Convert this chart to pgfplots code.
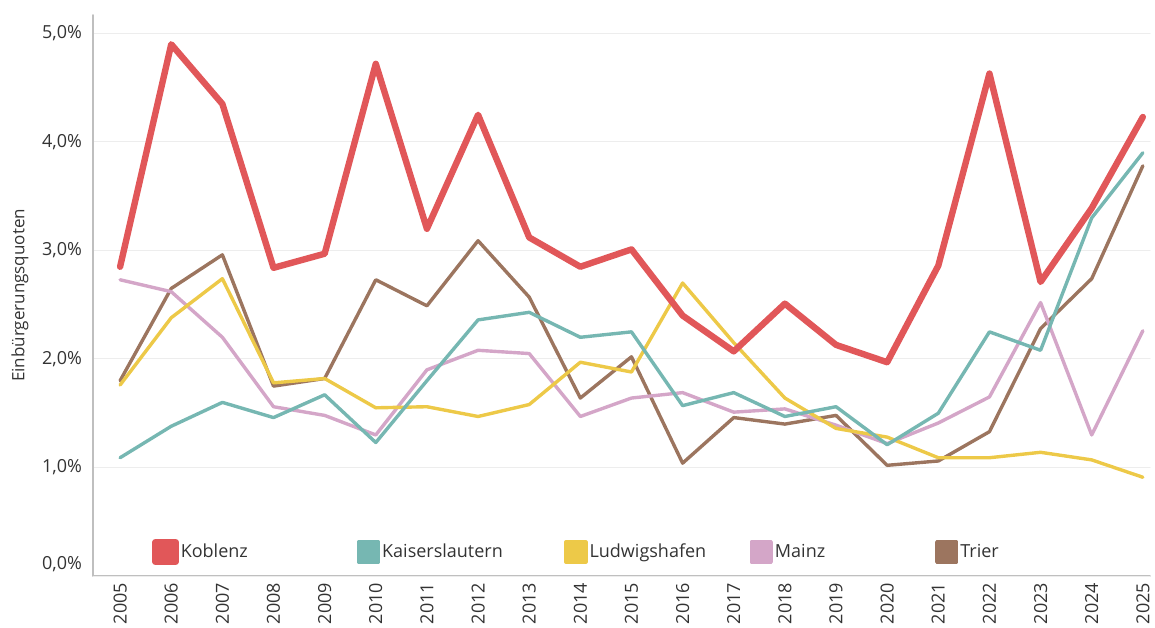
\documentclass[border=0pt]{standalone}
\usepackage{pgfplots}
\pgfplotsset{compat=1.18}
\usepackage{fontspec}
\setmainfont{Open Sans}
\definecolor{koblenz}{HTML}{E15759}
\definecolor{kaisers}{HTML}{76B7B2}
\definecolor{ludwig}{HTML}{EDC948}
\definecolor{mainz}{HTML}{D4A6C8}
\definecolor{trier}{HTML}{9C755F}
\definecolor{txt}{HTML}{333333}
\newcommand{\zerolabel}{0,0\%}
\begin{document}
\begin{tikzpicture}
\begin{axis}[
  scale only axis,
  width=528.5pt, height=280.5pt,
  at={(0,0)}, anchor=south west,
  xmin=2004.47, xmax=2025.14,
  ymin=0, ymax=5.17,
  axis x line=bottom, axis y line=left,
  axis line style={draw=black!25, line width=0.9pt, -},
  xtick={2005,2006,2007,2008,2009,2010,2011,2012,2013,2014,2015,2016,2017,2018,2019,2020,2021,2022,2023,2024,2025},
  xticklabels={2005,2006,2007,2008,2009,2010,2011,2012,2013,2014,2015,2016,2017,2018,2019,2020,2021,2022,2023,2024,2025},
  ytick={1,2,3,4,5},
  yticklabels={{1,0\%},{2,0\%},{3,0\%},{4,0\%},{5,0\%}},
  extra y ticks={0},
  extra y tick labels={\zerolabel},
  extra y tick style={yticklabel style={yshift=6pt}},
  major tick length=0pt,
  ymajorgrids,
  grid style={draw=black!7, line width=0.5pt},
  tick label style={font=\fontsize{9}{10}\selectfont, text=txt},
  xticklabel style={rotate=90, anchor=east, xshift=0pt},
  yticklabel style={xshift=-2pt},
  ylabel={Einbürgerungsquoten},
  ylabel style={at={(axis description cs:-0.069,0.5)}, anchor=center, font=\fontsize{8.5}{10}\selectfont, text=txt},
  line join=round, line cap=round,
  legend columns=-1,
  reverse legend,
  legend image code/.code={\fill[#1] (0pt,-5pt) rectangle (10pt,5pt);},
  legend style={draw=none, fill=none, at={(axis description cs:0.0501,0.0428)}, anchor=west,
    /tikz/every even column/.append style={column sep=0pt},
    nodes={inner sep=0pt, font=\fontsize{9}{10}\selectfont, text=txt}},
]
\addplot[color=trier, line width=1.7pt] coordinates {
(2005,1.80) (2006,2.65) (2007,2.96) (2008,1.75) (2009,1.82) (2010,2.73) (2011,2.49) (2012,3.09) (2013,2.57) (2014,1.64) (2015,2.02) (2016,1.04) (2017,1.46) (2018,1.40) (2019,1.48) (2020,1.02) (2021,1.06) (2022,1.33) (2023,2.28) (2024,2.74) (2025,3.78)};
\addlegendentry{\hspace{1pt}\makebox[60pt][l]{Trier}}
\addplot[color=mainz, line width=1.7pt] coordinates {
(2005,2.73) (2006,2.62) (2007,2.20) (2008,1.56) (2009,1.48) (2010,1.30) (2011,1.90) (2012,2.08) (2013,2.05) (2014,1.47) (2015,1.64) (2016,1.69) (2017,1.51) (2018,1.54) (2019,1.39) (2020,1.22) (2021,1.41) (2022,1.65) (2023,2.52) (2024,1.30) (2025,2.26)};
\addlegendentry{\hspace{1pt}\makebox[80pt][l]{Mainz}}
\addplot[color=ludwig, line width=1.7pt] coordinates {
(2005,1.76) (2006,2.38) (2007,2.74) (2008,1.78) (2009,1.82) (2010,1.55) (2011,1.56) (2012,1.47) (2013,1.58) (2014,1.97) (2015,1.88) (2016,2.70) (2017,2.15) (2018,1.64) (2019,1.36) (2020,1.28) (2021,1.09) (2022,1.09) (2023,1.14) (2024,1.07) (2025,0.91)};
\addlegendentry{\hspace{1pt}\makebox[80pt][l]{Ludwigshafen}}
\addplot[color=kaisers, line width=1.7pt] coordinates {
(2005,1.09) (2006,1.38) (2007,1.60) (2008,1.46) (2009,1.67) (2010,1.23) (2011,1.80) (2012,2.36) (2013,2.43) (2014,2.20) (2015,2.25) (2016,1.57) (2017,1.69) (2018,1.47) (2019,1.56) (2020,1.21) (2021,1.50) (2022,2.25) (2023,2.08) (2024,3.30) (2025,3.90)};
\addlegendentry{\hspace{1pt}\makebox[91pt][l]{Kaiserslautern}}
\addplot[color=koblenz, line width=3.2pt] coordinates {
(2005,2.85) (2006,4.90) (2007,4.35) (2008,2.84) (2009,2.97) (2010,4.72) (2011,3.20) (2012,4.25) (2013,3.12) (2014,2.85) (2015,3.01) (2016,2.40) (2017,2.07) (2018,2.51) (2019,2.13) (2020,1.97) (2021,2.86) (2022,4.63) (2023,2.71) (2024,3.39) (2025,4.23)};
\addlegendentry{\hspace{1pt}\makebox[88pt][l]{Koblenz}}
\end{axis}
\pgfresetboundingbox
\path[use as bounding box] (-46.5pt,-25.5pt) rectangle (531pt,288pt);
\end{tikzpicture}
\end{document}
